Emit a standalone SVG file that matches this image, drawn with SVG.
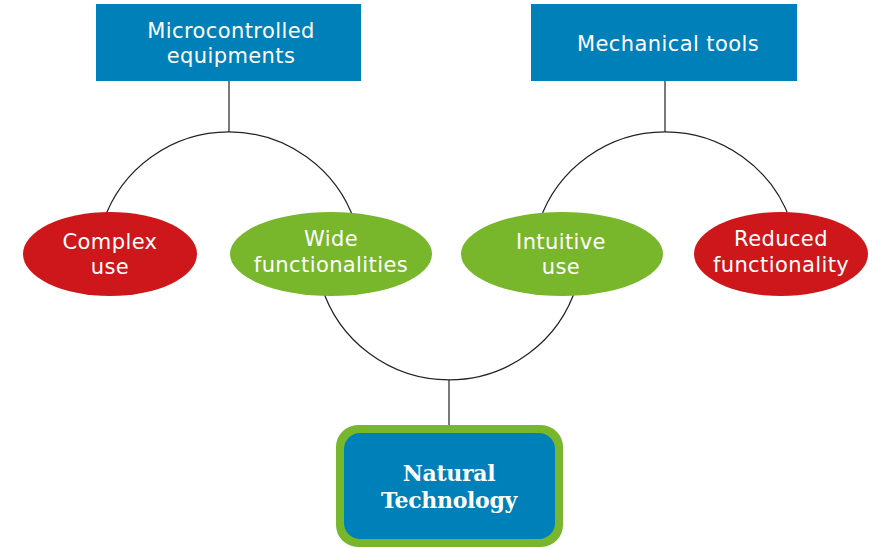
<svg xmlns="http://www.w3.org/2000/svg" width="877" height="548" viewBox="0 0 877 548">
<style>
.box{fill:#0080b9}
.red{fill:#cd171a}
.green{fill:#78b72b}
.lbl{font-family:"DejaVu Sans","Liberation Sans",sans-serif;font-size:21px;letter-spacing:0.4px;fill:#fff;text-anchor:middle}
.nt{font-family:"DejaVu Serif","Liberation Serif",serif;font-weight:bold;font-size:22px;letter-spacing:-0.3px;fill:#fff;text-anchor:middle}
.con{fill:none;stroke:#222;stroke-width:1.2}
</style>
<rect width="877" height="548" fill="#fff"/>
<g id="connectors">
<line class="con" x1="229" y1="81" x2="229" y2="132"/>
<path class="con" d="M103.1,222 A133,133 0 0 1 354.9,222"/>
<line class="con" x1="665" y1="81" x2="665" y2="132"/>
<path class="con" d="M539.1,222 A133,133 0 0 1 790.9,222"/>
<path class="con" d="M321.2,285 A133.5,133.5 0 0 0 576.8,285"/>
<line class="con" x1="449" y1="380" x2="449" y2="428" stroke="#555"/>
</g>
<g id="microcontrolled">
<rect class="box" x="96" y="4" width="265" height="77"/>
<text class="lbl" x="231" y="38">Microcontrolled</text>
<text class="lbl" x="231" y="63">equipments</text>
</g>
<g id="mechanical">
<rect class="box" x="531" y="4" width="266" height="77"/>
<text class="lbl" x="668" y="51">Mechanical tools</text>
</g>
<g id="complex">
<ellipse class="red" cx="110" cy="254" rx="87" ry="42"/>
<text class="lbl" x="110" y="249">Complex</text>
<text class="lbl" x="110" y="274">use</text>
</g>
<g id="wide">
<ellipse class="green" cx="331" cy="254" rx="101" ry="42"/>
<text class="lbl" x="331" y="246">Wide</text>
<text class="lbl" x="331" y="272">functionalities</text>
</g>
<g id="intuitive">
<ellipse class="green" cx="562" cy="254" rx="101" ry="42"/>
<text class="lbl" x="561" y="249">Intuitive</text>
<text class="lbl" x="561" y="274">use</text>
</g>
<g id="reduced">
<ellipse class="red" cx="781" cy="254" rx="87" ry="42"/>
<text class="lbl" x="781" y="246">Reduced</text>
<text class="lbl" x="781" y="272">functionality</text>
</g>
<g id="natural">
<rect x="336" y="425" width="227" height="122" rx="22" fill="#78b72b"/>
<rect class="box" x="344" y="433" width="211" height="106" rx="16"/>
<text class="nt" x="449" y="481">Natural</text>
<text class="nt" x="449" y="508">Technology</text>
</g>
</svg>
